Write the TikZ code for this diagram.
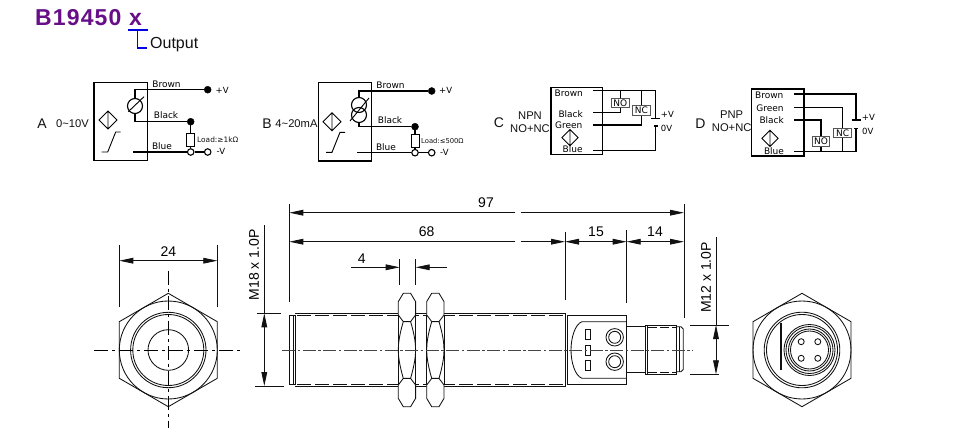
\documentclass[tikz,border=0pt]{standalone}
\usepackage{fontspec}
\setmainfont{Liberation Sans}
\newfontfamily\wirefont{DejaVu Sans}
\newfontfamily\titlefont{Liberation Sans}[LetterSpace=5]
\usetikzlibrary{arrows.meta}
\definecolor{titlepurple}{HTML}{660F87}
\definecolor{tblue}{HTML}{0000E0}
\definecolor{inkblack}{HTML}{111111}
\definecolor{centregrey}{HTML}{444444}
\definecolor{contactgrey}{HTML}{555555}
\newcommand{\fsz}[1]{\fontsize{#1}{#1}\selectfont}
\tikzset{
  lbl/.style={inner sep=0pt,text=inkblack,font=\fsz{11.2}},
  dimtxt/.style={inner sep=0pt,text=black,font=\fsz{14}},
  wire/.style={inner sep=0pt,text=black,font=\wirefont\fsz{9}},
  volt/.style={inner sep=0pt,text=black,anchor=west,font=\wirefont\fsz{8.5}},
  loadtxt/.style={inner sep=0pt,text=inkblack,font=\wirefont\fsz{7.4},anchor=west},
  wireline/.style={draw=black,line width=1.2pt},
  thinl/.style={draw=black,line width=0.9pt},
  part/.style={draw=inkblack,line width=0.85pt},
  sbox/.style={draw=black,line width=1.3pt},
  contact/.style={draw=contactgrey,fill=white,line width=1pt,inner sep=0pt,minimum width=17.5pt,minimum height=9.5pt,text=black,font=\wirefont\fsz{9}},
  loadbox/.style={draw=black,fill=white,line width=1pt,inner sep=0pt,minimum width=8pt,minimum height=13pt},
  fdot/.style={circle,fill=black,draw=black,inner sep=0pt,minimum size=7pt},
  odot/.style={circle,fill=white,draw=black,line width=1.1pt,inner sep=0pt,minimum size=6.5pt},
  dimline/.style={draw=inkblack,line width=0.85pt},
  centre/.style={draw=centregrey,line width=0.8pt,dash pattern=on 13pt off 2.5pt on 2.5pt off 2.5pt},
  hexcentre/.style={draw=black,line width=0.9pt,dash pattern=on 14pt off 4pt on 3pt off 4pt},
  dimtip/.style={-{Triangle[length=14pt,width=5.7pt]}},
  hidden/.style={draw=inkblack,line width=0.85pt,dash pattern=on 14pt off 4pt},
  diamondsym/.pic={\draw[thinl] (-9,0)--(0,-9)--(9,0)--(0,9)--cycle (0,-9)--(0,9);},
  ramp/.pic={\draw[thinl] (0,0)--(6,0)--(14,-20)--(19,-20);},
  hexview/.pic={
    \draw[part] (0,-56.7)--(49,-28.3)--(49,28.3)--(0,56.7)--(-49,28.3)--(-49,-28.3)--cycle;
    \draw[part] (0,0) circle[radius=49];
  }
}
\begin{document}
\begin{tikzpicture}[x=1pt,y=-1pt]
\useasboundingbox (0,0) rectangle (954,444);
% title
\node[inner sep=0pt,anchor=base west,text=titlepurple,font=\titlefont\bfseries\fsz{23}] (title) at (35,25.7) {B19450 x};
\coordinate (tl) at (128,30); \coordinate (tr) at (148,30);
\coordinate (tm) at (137.7,30); \coordinate (tb) at (137.7,48);
\draw[draw=tblue,line width=1.3pt] (tl)--(tr) (tm)--(tb)--(147,48);
\node[lbl,anchor=west,font=\fsz{16}] (output) at (150,44.5) {Output};

% Wiring A
\node[sbox,rectangle,minimum width=53.7pt,minimum height=78.4pt,inner sep=0pt] (boxA) at (120.85,121.5) {};
\node[fdot] (aplus) at (207.7,89.7) {};
\node[fdot] (ablack) at (190.7,121.7) {};
\node[odot] (ablue) at (190.7,152) {};
\node[odot] (aminus) at (207.7,152) {};
\node[loadbox] (aload) at (190.7,140) {};
\node[circle,draw=black,line width=1.1pt,minimum size=15pt,inner sep=0pt] (asym) at (135,106) {};
\draw[wireline] (asym.north)--(135,89.7)--(aplus);
\draw[wireline] (asym.south)--(135,121.7)--(ablack);
\draw[wireline] (ablack)--(aload);
\draw[wireline] (aload)--(ablue);
\draw[wireline] (133,152)--(ablue)--(aminus);
\draw[thinl] (128.3,111.7)--(144,96.7);
\pic at (108,120) {diamondsym};
\pic at (101.7,152) {ramp};
\node[wire] (a1) at (166.5,84.5) {Brown};
\node[wire] (a2) at (166,115) {Black};
\node[wire] (a3) at (162,146.5) {Blue};
\node[volt] (a4) at (215.5,90) {+V};
\node[volt] (a5) at (216.5,151.5) {-V};
\node[loadtxt] (a6) at (197,140) {Load:≥1kΩ};
\node[lbl,font=\fsz{14}] (a7) at (42,124) {A};
\node[lbl] (a8) at (72.5,124) {0\~{}10V};

% Wiring B
\node[sbox,rectangle,minimum width=53.4pt,minimum height=78.3pt,inner sep=0pt] (boxB) at (345,121.85) {};
\node[fdot] (bplus) at (431.7,91) {};
\node[fdot] (bblack) at (415,126.7) {};
\node[odot] (bblue) at (415,152.7) {};
\node[odot] (bminus) at (431.7,152.7) {};
\node[loadbox,minimum height=12.5pt] (bload) at (415,141) {};
\node[circle,draw=black,line width=1.1pt,minimum size=15pt,inner sep=0pt] (bsym1) at (359,105) {};
\node[circle,draw=black,line width=1.1pt,minimum size=15pt,inner sep=0pt] (bsym2) at (359,115) {};
\draw[wireline] (bsym1.north)--(359,91)--(bplus);
\draw[wireline] (bsym2.south)--(359,126.7)--(bblack);
\draw[wireline] (bblack)--(bload);
\draw[wireline] (bload)--(bblue);
\draw[wireline] (357,152.7)--(bblue)--(bminus);
\draw[thinl] (350,121)--(369,98);
\pic at (332,121.7) {diamondsym};
\pic at (326,152.3) {ramp};
\node[wire] (b1) at (390.5,85.5) {Brown};
\node[wire] (b2) at (390,120) {Black};
\node[wire] (b3) at (386,147) {Blue};
\node[volt] (b4) at (439,90.5) {+V};
\node[volt] (b5) at (440,152) {-V};
\node[loadtxt,font=\wirefont\fsz{6.8}] (b6) at (421,141) {Load:≤500Ω};
\node[lbl,font=\fsz{14}] (b7) at (267,124) {B};
\node[lbl] (b8) at (296.5,123.5) {4\~{}20mA};

% Wiring C
\node[sbox,rectangle,minimum width=51.7pt,minimum height=66.6pt,inner sep=0pt] (boxC) at (576.85,121) {};
\coordinate (c1) at (593.3,90.7); \coordinate (c2) at (593.3,112.7);
\coordinate (c3) at (593.3,125); \coordinate (c4) at (593.3,150.3);
\coordinate (ctop) at (655.7,118.5); \coordinate (cbot) at (655.7,126);
\node[contact] (cno) at (620.3,103) {NO};
\node[contact] (cnc) at (641.3,110.3) {NC};
\draw[wireline] (c1)--(655.7,90.7)--(ctop);
\draw[wireline] (c4)--(655.7,150.3)--(cbot);
\draw[wireline] (620.3,90.7)--(cno);
\draw[wireline] (cno)--(620.3,112.7)--(c2);
\draw[wireline] (641.3,90.7)--(cnc);
\draw[wireline] (cnc)--(641.3,125)--(c3);
\draw[wireline] (651,118.5)--(660,118.5);
\draw[wireline] (654,126)--(657.5,126);
\pic[scale=0.9] at (570,137.7) {diamondsym};
\node[wire] (c5) at (568.7,93.3) {Brown};
\node[wire] (c6) at (570.7,114) {Black};
\node[wire] (c7) at (568.7,125.7) {Green};
\node[wire] (c8) at (572.7,149) {Blue};
\node[volt] (c9) at (660.7,114) {+V};
\node[volt] (c10) at (660.7,128) {0V};
\node[lbl,font=\fsz{14}] (c11) at (499,123) {C};
\node[lbl] (c12) at (530,115.7) {NPN};
\node[lbl] (c13) at (530,129) {NO+NC};

% Wiring D
\node[sbox,rectangle,minimum width=52.3pt,minimum height=67pt,inner sep=0pt] (boxD) at (777.85,122.5) {};
\coordinate (d1) at (794,94); \coordinate (d2) at (794,107.7);
\coordinate (d3) at (794,120); \coordinate (d4) at (794,151.7);
\coordinate (dtop) at (856,120); \coordinate (dbot) at (856,128.3);
\node[contact] (dno) at (821,141.3) {NO};
\node[contact] (dnc) at (842.7,133) {NC};
\draw[wireline] (d1)--(856,94)--(dtop);
\draw[wireline] (d4)--(856,151.7)--(dbot);
\draw[wireline] (d2)--(842.7,107.7)--(dnc);
\draw[wireline] (dnc)--(842.7,151.7);
\draw[wireline] (d3)--(821,120)--(dno);
\draw[wireline] (dno)--(821,151.7);
\draw[wireline] (851.7,120)--(860.7,120);
\draw[wireline] (854.3,128.3)--(857.7,128.3);
\pic[scale=0.9] at (770,138.3) {diamondsym};
\node[wire] (d5) at (769.3,95) {Brown};
\node[wire] (d6) at (770,108.3) {Green};
\node[wire] (d7) at (771.7,120) {Black};
\node[wire] (d8) at (774,151.3) {Blue};
\node[volt] (d9) at (861.7,117.7) {+V};
\node[volt] (d10) at (862,131.7) {0V};
\node[lbl,font=\fsz{14}] (d11) at (700.5,124) {D};
\node[lbl] (d12) at (731.7,114.3) {PNP};
\node[lbl] (d13) at (731.7,127.7) {NO+NC};

% Left hex view
\pic at (168.3,350) {hexview};
\draw[part] (168.3,350) circle[radius=37.7] circle[radius=35.5] circle[radius=20.3];
\draw[hexcentre] (94,350)--(243,350);
\draw[hexcentre] (168.3,270.7)--(168.3,428);
\coordinate (h24l) at (119.3,260.7); \coordinate (h24r) at (217.3,260.7);
\draw[dimline] (119.3,245)--(119.3,306.7) (217.3,245)--(217.3,306.7);
\draw[dimline,dimtip] (168.3,260.7)--(h24l);
\draw[dimline,dimtip] (168.3,260.7)--(h24r);
\node[dimtxt] (t24) at (168.5,252) {24};

% Side view: body
\draw[part] (289.3,315)--(289.3,384.3)--(295,384.3)--(295,315)--cycle;
\draw[part] (293.3,315)--(293.3,384.3);
\draw[part] (295,313.3)--(565,313.3)--(565,386)--(295,386);
\draw[hidden] (297,315.5)--(565,315.5) (297,384)--(565,384);
\draw[part] (567,315)--(626.7,315)--(626.7,384.3)--(567,384.3);
\draw[part] (567,315)--(567,384.3);
\draw[part] (626.7,321.7)--(582,321.7) .. controls (575,324) and (571,338) .. (571,350) .. controls (571,362) and (575,376) .. (582,378.3)--(626.7,378.3);
\draw[part] (585.3,329.3) rectangle (590.7,339.3) (585.3,345) rectangle (590.7,355) (585.3,360.7) rectangle (590.7,370.7);
\draw[part] (614.7,337.3) circle[radius=8.7] circle[radius=6];
\draw[part] (614.7,361.7) circle[radius=8.7] circle[radius=6];
\draw[part] (626.7,326.7)--(645,326.7) (626.7,372.3)--(645,372.3);
\draw[part] (645,325)--(676.7,325)--(676.7,374.3)--(645,374.3)--cycle;
\draw[part] (647.7,325)--(647.7,374.3);
\draw[hidden,dash pattern=on 9pt off 3pt] (648,327.5)--(676,327.5) (648,372)--(676,372);
\draw[part] (676.7,326.7)--(681,326.7)--(683.3,329)--(683.3,369.5)--(681,371.7)--(676.7,371.7);
\draw[part] (679.5,326.7)--(679.5,371.7);
% Nuts
\foreach \nx in {398.3,426.7}{
  \begin{scope}[shift={(\nx,293.3)}]
  \fill[white] (0,8)rectangle(17.3,105);
  \draw[part,fill=white] (5,0)--(12.3,0)--(17.3,8.3)--(17.3,21.7)--(12.3,28.3)--(5,28.3)--(0,21.7)--(0,8.3)--cycle;
  \draw[part,fill=white] (5,113.4)--(12.3,113.4)--(17.3,105.1)--(17.3,91.7)--(12.3,85.1)--(5,85.1)--(0,91.7)--(0,105.1)--cycle;
  \draw[part] (5,28.3) .. controls (1,42) and (0,50) .. (0,56.7) .. controls (0,63) and (1,71) .. (5,85.1);
  \draw[part] (12.3,28.3) .. controls (16.3,42) and (17.3,50) .. (17.3,56.7) .. controls (17.3,63) and (16.3,71) .. (12.3,85.1);
  \draw[part] (0,21.7)--(0,91.7) (17.3,21.7)--(17.3,91.7);
  \end{scope}
}
\draw[centre] (282.3,350)--(692.7,350);

% Dimensions of side view
\draw[dimline] (289.3,204)--(289.3,301.7) (684,204)--(684,317.7);
\draw[dimline] (565,231.7)--(565,300) (626.7,230)--(626.7,303.3);
\draw[dimline] (399.7,259)--(399.7,285) (415.7,259)--(415.7,285);
\coordinate (d97l) at (289.3,212.7); \coordinate (d97r) at (684,212.7);
\draw[dimline,dimtip] (515,212.7)--(d97l);
\draw[dimline,dimtip] (520.7,212.7)--(d97r);
\node[dimtxt] (t97) at (486,203) {97};
\coordinate (d68l) at (289.3,241.7); \coordinate (d68r) at (565,241.7);
\draw[dimline,dimtip] (515,241.7)--(d68l);
\draw[dimline,dimtip] (520.7,241.7)--(d68r);
\node[dimtxt] (t68) at (426.7,232) {68};
\coordinate (d15r) at (626.7,241.7); \coordinate (d14r) at (684,241.7);
\draw[dimline,dimtip] (596,241.7)--(d68r);
\draw[dimline,dimtip] (596,241.7)--(d15r);
\draw[dimline,dimtip] (655,241.7)--(d15r);
\draw[dimline,dimtip] (655,241.7)--(d14r);
\node[dimtxt] (t15) at (596,232) {15};
\node[dimtxt] (t14) at (655,232) {14};
\coordinate (d4l) at (399.7,267.3); \coordinate (d4r) at (415.7,267.3);
\draw[dimline,dimtip] (351,267.3)--(d4l);
\draw[dimline,dimtip] (447,267.3)--(d4r);
\node[dimtxt] (t4) at (361.7,258.5) {4};
% M18
\draw[dimline] (257,313.3)--(281,313.3) (255,386)--(284,386);
\coordinate (m18t) at (264.3,313.3); \coordinate (m18b) at (264.3,386);
\draw[dimline,dimtip] (264.3,350)--(m18t);
\draw[dimline,dimtip] (264.3,350)--(m18b);
\draw[dimline] (264.3,225)--(264.3,313.3);
\node[dimtxt,rotate=90] (m18) at (254,265) {M18 x 1.0P};
% M12
\draw[dimline] (690,325)--(729,325) (690,374.3)--(719,374.3);
\coordinate (m12t) at (716,325); \coordinate (m12b) at (716,374.3);
\draw[dimline,dimtip] (716,350)--(m12t);
\draw[dimline,dimtip] (716,350)--(m12b);
\draw[dimline] (716,237)--(716,325);
\node[dimtxt,rotate=90] (m12) at (706,277.5) {M12 x 1.0P};

% Right view
\pic at (802,350) {hexview};
\draw[part] (802,350) circle[radius=37.8] circle[radius=35.5];
\draw[part] (809.5,350) circle[radius=25.5] circle[radius=23.5] circle[radius=21] circle[radius=19];
\foreach \px/\py in {-8.3/-8.3,8.3/-8.3,-8.3/8.3,8.3/8.3}{
  \draw[part] (809.5+\px,350+\py) circle[radius=3];
}
\draw[draw=inkblack,line width=1.2pt] (781,323.3)--(781,370);
\end{tikzpicture}
\end{document}
